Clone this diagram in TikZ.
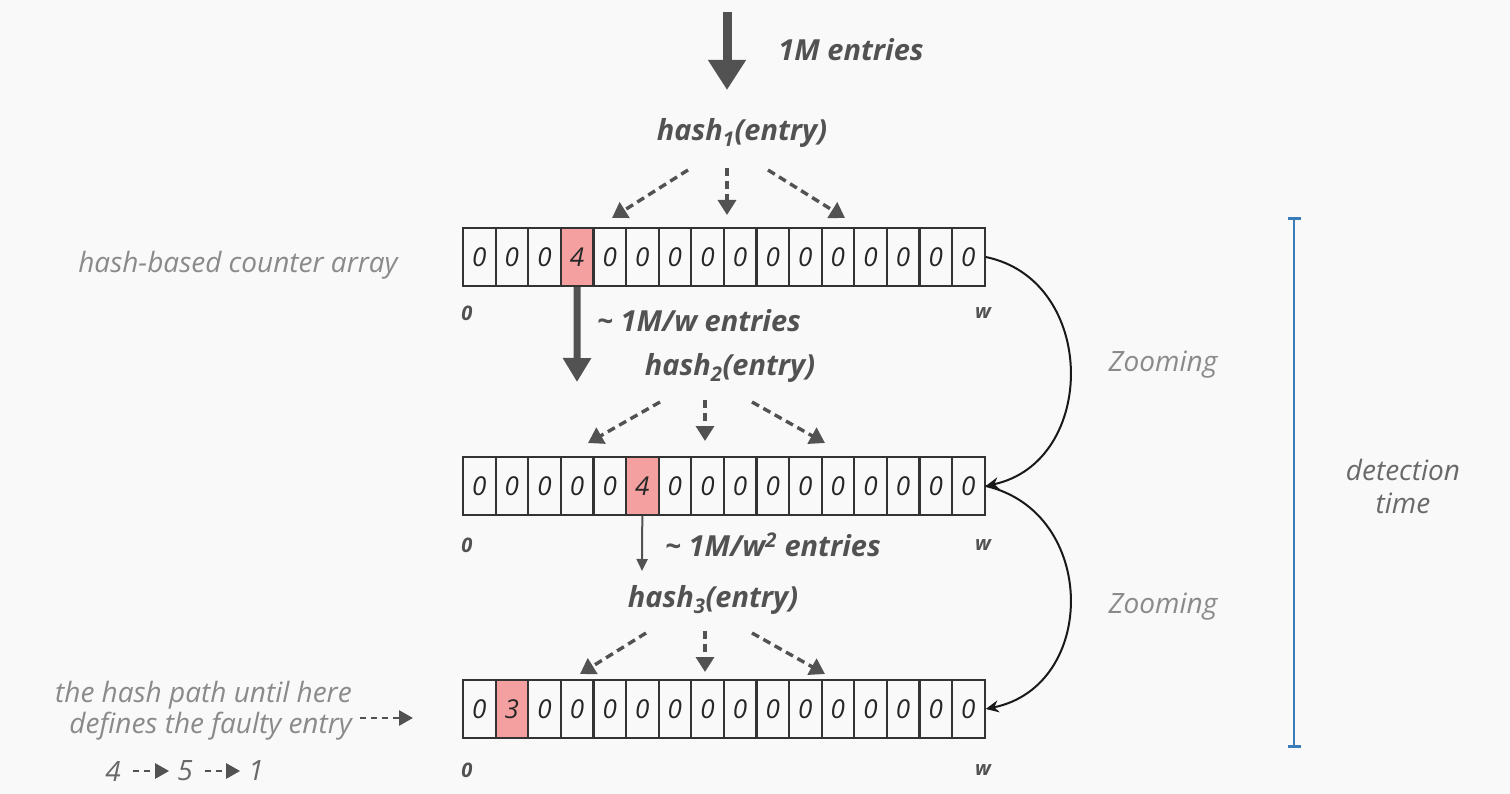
\documentclass[tikz,border=0pt]{standalone}
\usepackage{fontspec}
\setmainfont{Open Sans}
\usetikzlibrary{arrows.meta}
\definecolor{bg}{RGB}{248,249,248}
\definecolor{dk}{RGB}{82,82,82}
\definecolor{lg}{RGB}{138,138,138}
\definecolor{mg}{RGB}{105,105,105}
\definecolor{cellred}{RGB}{244,160,160}
\definecolor{barblue}{RGB}{58,124,184}
\begin{document}
\begin{tikzpicture}[x=1pt,y=-1pt,
  cell/.style={draw=black!80, line width=2.2pt, minimum width=32.6pt, minimum height=58pt, inner sep=0pt,
    font=\itshape\fontsize{26}{26}\selectfont, text=black!85},
  boldlab/.style={font=\bfseries\itshape\fontsize{29}{32}\selectfont, text=dk, inner sep=0pt},
  graylab/.style={font=\itshape\fontsize{28}{31}\selectfont, text=lg, inner sep=0pt},
  axlab/.style={font=\bfseries\itshape\fontsize{20}{20}\selectfont, text=dk, inner sep=0pt},
  dasharrow/.style={draw=dk, line width=3.4pt, dash pattern=on 8pt off 5pt, -{Triangle[width=18pt,length=15pt]}},
  smalldash/.style={draw=dk, line width=2.8pt, dash pattern=on 6pt off 5pt, -{Triangle[width=15pt,length=14pt]}},
  zoomarrow/.style={draw=black!90, line width=2pt, -{Stealth[width=12pt,length=13pt]}}
]
\fill[bg] (0,0) rectangle (1510,794);
\useasboundingbox (0,0) rectangle (1510,794);

% arrays
\foreach \r/\yy/\hot/\hv in {1/257/4/4, 2/486/6/4, 3/709/2/3} {
  \foreach \i in {1,...,16} {
    \pgfmathsetmacro\cx{463+32.6*(\i-0.5)}
    \ifnum\i=\hot
      \node[cell, fill=cellred] (a\r-\i) at (\cx,\yy) {\hv};
    \else
      \node[cell] (a\r-\i) at (\cx,\yy) {0};
    \fi
  }
}

% axis labels
\foreach \r/\yy in {1/313, 2/545, 3/770} {
  \node[axlab] (z\r) at (467,\yy) {0};
  \node[axlab] (w\r) at (983,\yy) {w};
}

% top input
\coordinate (in) at (727,12);
\node[boldlab] (m0) at (851,50) {1M entries};
\node[boldlab] (h1) at (742,133) {hash\textsubscript{1}(entry)};
\coordinate (tipin) at (727,90);
\draw[dk, line width=9pt, -{Triangle[width=36pt,length=30pt]}] (in) -- (tipin);

% hash1 dashed arrows
\coordinate (h1l) at (688,170); \coordinate (t1l) at (612,218);
\coordinate (h1m) at (727,168); \coordinate (t1m) at (727,215);
\coordinate (h1r) at (768,170); \coordinate (t1r) at (845,218);
\draw[dasharrow] (h1l) -- (t1l);
\draw[dasharrow] (h1m) -- (t1m);
\draw[dasharrow] (h1r) -- (t1r);

% level 2
\node[boldlab] (m1) at (699,321) {\textasciitilde{} 1M/w entries};
\node[boldlab] (h2) at (730,368) {hash\textsubscript{2}(entry)};
\coordinate (t2) at (577,382);
\draw[dk, line width=7pt, -{Triangle[width=27pt,length=24pt]}] (a1-4.south) -- (t2);

\coordinate (h2l) at (660,402); \coordinate (t2l) at (588,443);
\coordinate (h2m) at (705,400); \coordinate (t2m) at (705,441);
\coordinate (h2r) at (752,402); \coordinate (t2r) at (825,443);
\draw[dasharrow] (h2l) -- (t2l);
\draw[dasharrow] (h2m) -- (t2m);
\draw[dasharrow] (h2r) -- (t2r);

% level 3
\node[boldlab] (m2) at (773,545) {\textasciitilde{} 1M/w\textsuperscript{2} entries};
\node[boldlab] (h3) at (713,600) {hash\textsubscript{3}(entry)};
\coordinate (t3) at (642,571);
\draw[dk, line width=2pt, -{Triangle[width=11pt,length=12pt]}] (a2-6.south) -- (t3);

\coordinate (h3l) at (646,633); \coordinate (t3l) at (580,674);
\coordinate (h3m) at (705,631); \coordinate (t3m) at (705,672);
\coordinate (h3r) at (752,633); \coordinate (t3r) at (825,674);
\draw[dasharrow] (h3l) -- (t3l);
\draw[dasharrow] (h3m) -- (t3m);
\draw[dasharrow] (h3r) -- (t3r);

% zooming curves
\draw[zoomarrow] (a1-16.east) .. controls (1098,280) and (1098,462) .. (a2-16.east);
\draw[zoomarrow] (a2-16.east) .. controls (1098,512) and (1098,686) .. (a3-16.east);
\node[graylab] (zm1) at (1163,365) {Zooming};
\node[graylab] (zm2) at (1163,607) {Zooming};

% detection time bar
\coordinate (bt) at (1294,217);
\coordinate (bb) at (1294,748);
\draw[barblue, line width=2.8pt, {Bar[width=13pt,line width=2.6pt]}-{Bar[width=13pt,line width=2.6pt]}] (bt) -- (bb);
\node[graylab, text=mg, align=center, font=\itshape\fontsize{28}{33}\selectfont] (det) at (1403,486) {detection\\time};

% left labels
\node[graylab] (lab) at (238,265) {hash-based counter array};
\node[graylab, align=right, anchor=east] (path) at (352,711) {the hash path until here\\defines the faulty entry};
\coordinate (pathtip) at (413,718);
\draw[smalldash] (360,718) -- (pathtip);

\node[graylab, text=mg] (n4) at (113,771) {4};
\node[graylab, text=mg] (n5) at (185,771) {5};
\node[graylab, text=mg] (n1) at (256,771) {1};
\draw[smalldash] ([xshift=12pt]n4.east) -- ([xshift=-8pt]n5.west);
\draw[smalldash] ([xshift=12pt]n5.east) -- ([xshift=-8pt]n1.west);
\end{tikzpicture}
\end{document}
